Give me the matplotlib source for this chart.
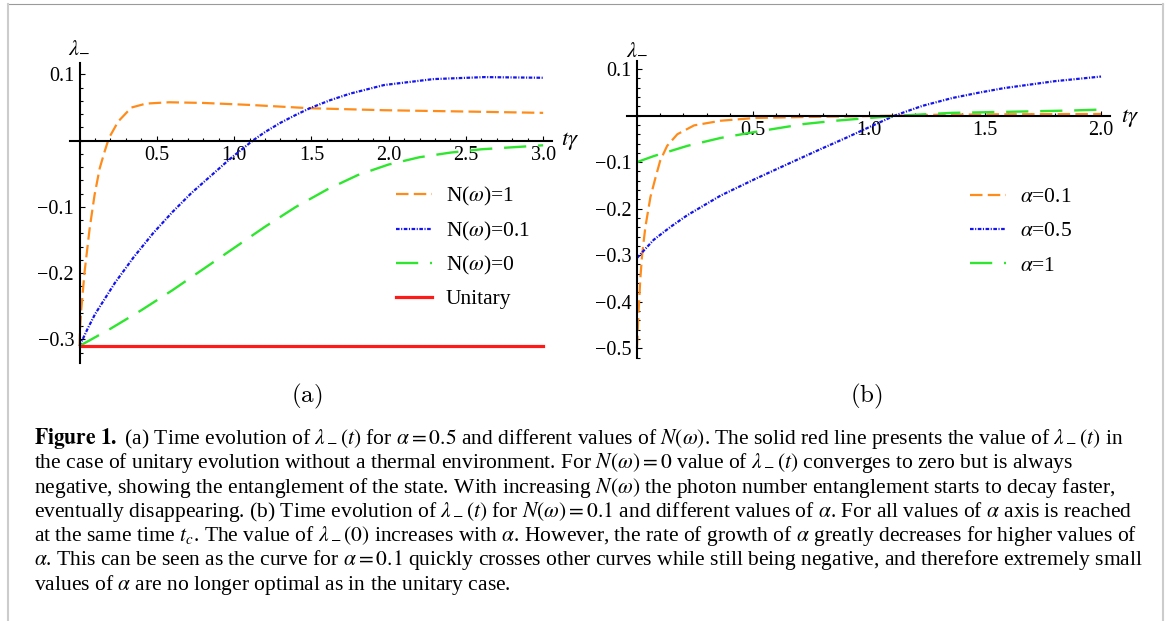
import matplotlib
matplotlib.use('Agg')
import matplotlib.pyplot as plt
from matplotlib.ticker import MultipleLocator
from matplotlib.lines import Line2D

plt.rcParams['font.family'] = ['Liberation Serif', 'DejaVu Serif']
plt.rcParams['mathtext.fontset'] = 'stix'
plt.rcParams['lines.scale_dashes'] = False

# ---- panel (a): alpha = 0.5, different N(omega)
t_a_n1 = [0, 0.004, 0.011, 0.032, 0.065, 0.097, 0.13, 0.16, 0.19, 0.25, 0.335, 0.43,
          0.58, 0.8, 1.1, 1.49, 1.97, 2.5, 3.0]
lam_a_n1 = [-0.31, -0.28, -0.255, -0.199, -0.133, -0.082, -0.042, -0.018, 0.004, 0.029,
            0.050, 0.056, 0.058, 0.057, 0.054, 0.049, 0.046, 0.044, 0.042]

t_a_n01 = [0, 0.05, 0.1, 0.228, 0.35, 0.475, 0.6, 0.724, 0.85, 0.971, 1.12, 1.2, 1.3,
           1.4, 1.49, 1.62, 1.75, 1.97, 2.29, 2.62, 3.0]
lam_a_n01 = [-0.31, -0.285, -0.262, -0.215, -0.176, -0.140, -0.108, -0.079, -0.053,
             -0.028, 0.0, 0.013, 0.027, 0.039, 0.049, 0.061, 0.071, 0.084, 0.093,
             0.096, 0.095]

t_a_n0 = [0, 0.2, 0.4, 0.6, 0.8, 1.0, 1.2, 1.4, 1.6, 1.8, 2.0, 2.2, 2.4, 2.6, 2.8, 3.0]
lam_a_n0 = [-0.31, -0.284, -0.256, -0.226, -0.194, -0.162, -0.130, -0.100, -0.074,
            -0.052, -0.036, -0.025, -0.018, -0.013, -0.010, -0.007]

t_unitary = [0, 3.0]
lam_unitary = [-0.31, -0.31]

labels_a = ['N($\\omega$)=1', 'N($\\omega$)=0.1', 'N($\\omega$)=0', 'Unitary']
xticks_a = [0.5, 1.0, 1.5, 2.0, 2.5, 3.0]
xticklabels_a = ['0.5', '1.0', '1.5', '2.0', '2.5', '3.0']
yticks_a = [0.1, -0.1, -0.2, -0.3]
yticklabels_a = ['0.1', '\u22120.1', '\u22120.2', '\u22120.3']

# ---- panel (b): N(omega) = 0.1, different alpha
t_b_a01 = [0, 0.007, 0.0145, 0.022, 0.036, 0.058, 0.08, 0.10, 0.13, 0.174, 0.246, 0.36,
           0.51, 0.72, 1.0, 1.12, 1.3, 1.6, 2.0]
lam_b_a01 = [-0.50, -0.42, -0.35, -0.30, -0.24, -0.175, -0.133, -0.097, -0.065, -0.040,
             -0.021, -0.011, -0.005, -0.003, -0.001, 0.0, 0.002, 0.003, 0.0035]

t_b_a05 = [0, 0.072, 0.145, 0.217, 0.36, 0.51, 0.65, 0.80, 0.90, 1.0, 1.11, 1.23, 1.36,
           1.47, 1.58, 1.8, 2.0]
lam_b_a05 = [-0.306, -0.267, -0.239, -0.214, -0.172, -0.136, -0.104, -0.070, -0.048,
             -0.025, 0.0, 0.021, 0.038, 0.049, 0.059, 0.074, 0.084]

t_b_a1 = [0, 0.072, 0.145, 0.217, 0.36, 0.51, 0.72, 0.855, 1.0, 1.13, 1.36, 1.58,
          1.87, 2.0]
lam_b_a1 = [-0.10, -0.087, -0.076, -0.065, -0.048, -0.035, -0.018, -0.011, -0.005, 0.0,
            0.006, 0.008, 0.011, 0.013]

labels_b = ['$\\alpha$=0.1', '$\\alpha$=0.5', '$\\alpha$=1']
xticks_b = [0.5, 1.0, 1.5, 2.0]
xticklabels_b = ['0.5', '1.0', '1.5', '2.0']
yticks_b = [0.1, -0.1, -0.2, -0.3, -0.4, -0.5]
yticklabels_b = ['0.1', '\u22120.1', '\u22120.2', '\u22120.3', '\u22120.4', '\u22120.5']

caption = [
    r'$\mathbf{Figure\ 1.}$ (a) Time evolution of $\lambda_-(t)$ for $\alpha = 0.5$ and different values of $N(\omega)$. The solid red line presents the value of $\lambda_-(t)$ in',
    r'the case of unitary evolution without a thermal environment. For $N(\omega) = 0$ value of $\lambda_-(t)$ converges to zero but is always',
    r'negative, showing the entanglement of the state. With increasing $N(\omega)$ the photon number entanglement starts to decay faster,',
    r'eventually disappearing. (b) Time evolution of $\lambda_-(t)$ for $N(\omega) = 0.1$ and different values of $\alpha$. For all values of $\alpha$ axis is reached',
    r'at the same time $t_c$. The value of $\lambda_-(0)$ increases with $\alpha$. However, the rate of growth of $\alpha$ greatly decreases for higher values of',
    r'$\alpha$. This can be seen as the curve for $\alpha = 0.1$ quickly crosses other curves while still being negative, and therefore extremely small',
    r'values of $\alpha$ are no longer optimal as in the unitary case.',
]

ORANGE = '#ff8c1a'
BLUE = '#1414f0'
GREEN = '#2ee62e'
RED = '#ff1a1a'

W, H = 1167, 621
fig = plt.figure(figsize=(W / 100, H / 100), dpi=100)


def px_axes(left, top, right, bottom):
    return fig.add_axes([left / W, 1 - bottom / H, (right - left) / W, (bottom - top) / H])


def setup_axes(ax, xlim, ylim, xt, xtl, yt, ytl):
    ax.set_xlim(*xlim)
    ax.set_ylim(*ylim)
    for s in ['top', 'right']:
        ax.spines[s].set_visible(False)
    for s in ['left', 'bottom']:
        ax.spines[s].set_position(('data', 0))
        ax.spines[s].set_linewidth(1.5)
        ax.spines[s].set_zorder(5)
    ax.set_xticks(xt, labels=xtl)
    ax.set_yticks(yt, labels=ytl)
    ax.xaxis.set_minor_locator(MultipleLocator(0.1))
    ax.yaxis.set_minor_locator(MultipleLocator(0.02))
    ax.tick_params(which='both', direction='in', width=0.8, labelsize=14.5)
    ax.tick_params(which='major', length=3.5, pad=4)
    ax.tick_params(which='minor', length=2)
    ax.patch.set_visible(False)


orange_ls = dict(color=ORANGE, lw=1.6, dashes=(9, 3.8))
blue_ls = dict(color=BLUE, lw=1.6, dashes=(2.6, 1.1, 0.8, 1.1))
green_ls = dict(color=GREEN, lw=1.7, dashes=(16, 8.5))

# (a)
ax_a = px_axes(70.3, 63.2, 552.4, 362.5)
setup_axes(ax_a, (-0.06, 3.06), (-0.335, 0.117), xticks_a, xticklabels_a,
           yticks_a, yticklabels_a)
ax_a.plot(t_a_n1, lam_a_n1, label=labels_a[0], **orange_ls)
ax_a.plot(t_a_n01, lam_a_n01, label=labels_a[1], **blue_ls)
ax_a.plot(t_a_n0, lam_a_n0, label=labels_a[2], **green_ls)
ax_a.plot(t_unitary, lam_unitary, label=labels_a[3], color=RED, lw=2.3)
ax_a.legend(loc='upper left', bbox_to_anchor=(396 / W, 1 - 185 / H),
            bbox_transform=fig.transFigure, frameon=False, fontsize=15.5,
            handlelength=1.65, handletextpad=0.65, labelspacing=0.54,
            borderpad=0, borderaxespad=0)

# (b)
ax_b = px_axes(627, 61.2, 1110.3, 358)
setup_axes(ax_b, (-0.043, 2.04), (-0.521, 0.117), xticks_b, xticklabels_b,
           yticks_b, yticklabels_b)
ax_b.plot(t_b_a01, lam_b_a01, label=labels_b[0], **orange_ls)
ax_b.plot(t_b_a05, lam_b_a05, label=labels_b[1], **blue_ls)
ax_b.plot(t_b_a1, lam_b_a1, label=labels_b[2], **green_ls)
ax_b.legend(loc='upper left', bbox_to_anchor=(970 / W, 1 - 187 / H),
            bbox_transform=fig.transFigure, frameon=False, fontsize=15.5,
            handlelength=1.65, handletextpad=0.65, labelspacing=0.66,
            borderpad=0, borderaxespad=0)

# axis names
fig.text(79.5 / W, 1 - 47 / H, r'$\lambda_{-}$', ha='center', va='center', fontsize=16)
fig.text(561 / W, 1 - 141 / H, r'$t\gamma$', ha='left', va='center', fontsize=16.5)
fig.text(637 / W, 1 - 50 / H, r'$\lambda_{-}$', ha='center', va='center', fontsize=16)
fig.text(1121 / W, 1 - 118 / H, r'$t\gamma$', ha='left', va='center', fontsize=16.5)

# panel letters
fig.text(307 / W, 1 - 396 / H, r'$\mathrm{(a)}$', ha='center', va='center',
         fontsize=18, math_fontfamily='cm')
fig.text(866 / W, 1 - 396 / H, r'$\mathrm{(b)}$', ha='center', va='center',
         fontsize=18, math_fontfamily='cm')

# caption
for i, line in enumerate(caption):
    fig.text(34 / W, 1 - (444 + i * 24.3) / H, line, ha='left', va='baseline',
             fontsize=15.5)

# page frame
fig.add_artist(Line2D([8 / W, 1163 / W], [1 - 4 / H, 1 - 4 / H],
                      transform=fig.transFigure, color='#9a9a9a', lw=0.8))
fig.add_artist(Line2D([8 / W, 8 / W], [0, 1 - 4 / H],
                      transform=fig.transFigure, color='#cccccc', lw=1.5))
fig.add_artist(Line2D([1163 / W, 1163 / W], [0, 1 - 4 / H],
                      transform=fig.transFigure, color='#cccccc', lw=1.5))

fig.savefig('out.png', dpi=100)
